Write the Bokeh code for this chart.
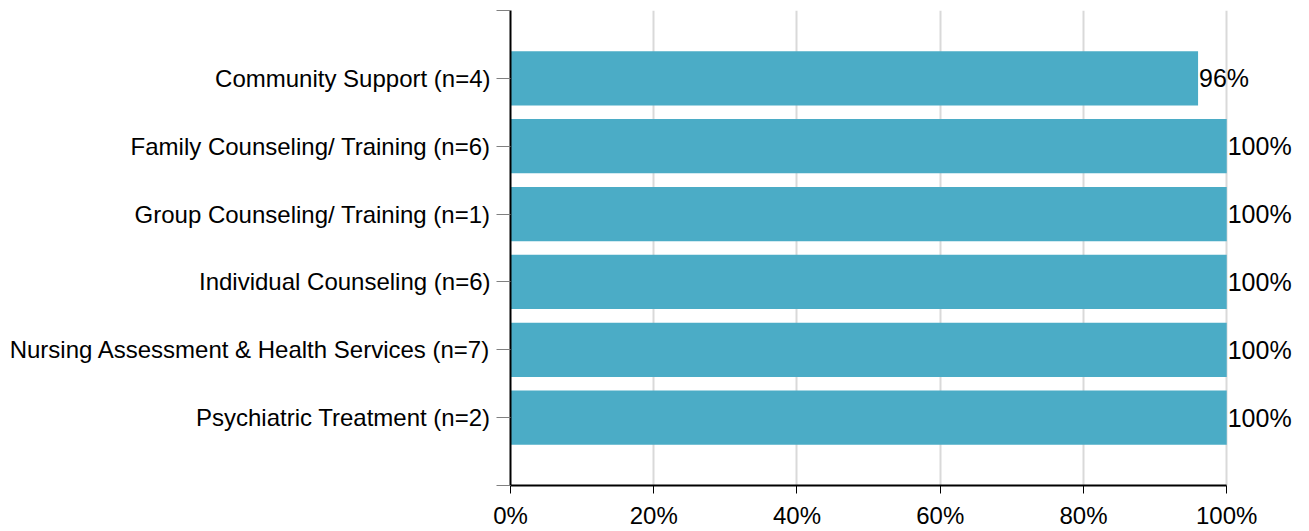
from bokeh.plotting import figure
from bokeh.models import ColumnDataSource, FixedTicker, Range1d, LabelSet
from bokeh.core.properties import value
from bokeh.embed import file_html
from bokeh.resources import INLINE

categories = [
    "Community Support (n=4)",
    "Family Counseling/ Training (n=6)",
    "Group Counseling/ Training (n=1)",
    "Individual Counseling (n=6)",
    "Nursing Assessment & Health Services (n=7)",
    "Psychiatric Treatment (n=2)",
]
values = [96, 100, 100, 100, 100, 100]
x_ticks = [0, 20, 40, 60, 80, 100]
x_tick_labels = ["0%", "20%", "40%", "60%", "80%", "100%"]

n = len(categories)
ypos = [n - i for i in range(n)]
src = ColumnDataSource(dict(y=ypos, v=values, cat=categories,
                            lbl=[f"{v}%" for v in values]))

# frame: 0..100 maps to x=510..1226 (7.16 px/unit); extend range to 111 for labels
p = figure(width=1309, height=531, output_backend="svg", toolbar_location=None,
           x_range=Range1d(0, 111), y_range=Range1d(0, n + 1),
           min_border_left=510, min_border_right=4, min_border_top=10,
           min_border_bottom=43)
p.outline_line_color = None
p.background_fill_color = "white"

p.hbar(y="y", right="v", left=0, height=0.8, source=src,
       fill_color="#4BACC6", line_color=None)

labels = LabelSet(x="v", y="y", text="lbl", source=src, x_offset=1,
                  text_align="left", text_baseline="middle",
                  text_font=value("Liberation Sans"), text_font_size=value("25px"),
                  text_color="black")
p.add_layout(labels)

# x axis
p.xaxis.ticker = FixedTicker(ticks=x_ticks)
p.xaxis.bounds = (0, 100)
p.xaxis.major_label_overrides = {t: l for t, l in zip(x_ticks, x_tick_labels)}
p.xaxis.major_label_text_font = "Liberation Sans"
p.xaxis.major_label_text_font_size = "24px"
p.xaxis.major_label_text_color = "black"
p.xaxis.axis_line_color = "black"
p.xaxis.axis_line_width = 2
p.xaxis.major_tick_line_color = "black"
p.xaxis.major_tick_out = 8
p.xaxis.major_tick_in = 0
p.xaxis.minor_tick_line_color = None
p.xaxis.major_label_standoff = 8

# y axis
p.yaxis.ticker = FixedTicker(ticks=list(range(0, n + 2)))
ov = {0: "", n + 1: ""}
for yy, c in zip(ypos, categories):
    ov[yy] = c
p.yaxis.major_label_overrides = ov
p.yaxis.major_label_text_font = "Liberation Sans"
p.yaxis.major_label_text_font_size = "24px"
p.yaxis.major_label_text_color = "black"
p.yaxis.axis_line_color = "black"
p.yaxis.axis_line_width = 2
p.yaxis.major_tick_line_color = "#808080"
p.yaxis.major_tick_out = 14
p.yaxis.major_tick_in = 0
p.yaxis.minor_tick_line_color = None
p.yaxis.major_label_standoff = 6

p.xgrid.ticker = FixedTicker(ticks=[20, 40, 60, 80, 100])
p.xgrid.grid_line_color = "#d9d9d9"
p.xgrid.grid_line_width = 2
p.ygrid.grid_line_color = None

open("out.html", "w").write(file_html(p, INLINE))
